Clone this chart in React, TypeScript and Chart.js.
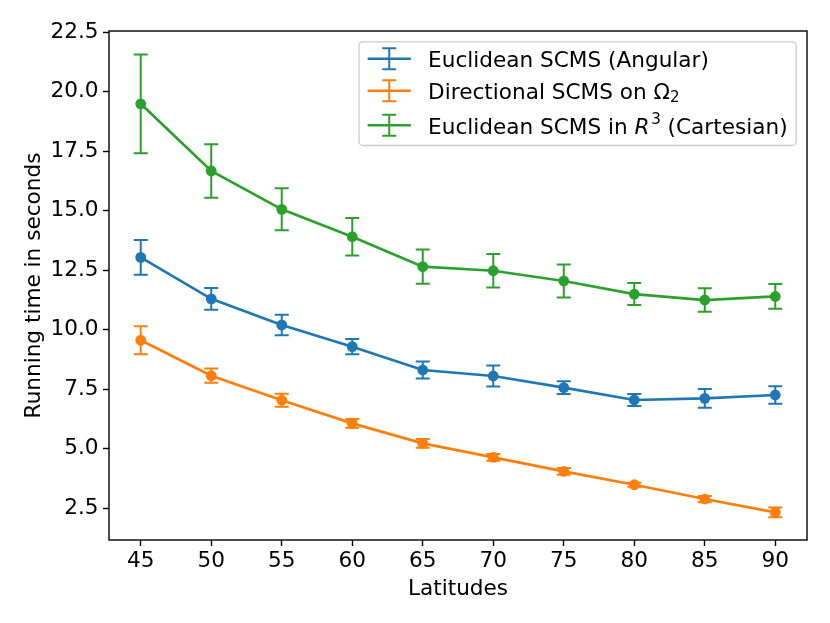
import { useEffect, useRef } from "react";
import { Chart, registerables } from "chart.js";

Chart.register(...registerables);

// latitudes on the x axis
const latitudes = [45, 50, 55, 60, 65, 70, 75, 80, 85, 90];

// mean running time (s) and error (+/-) per method
const angularTimes = [13.04, 11.3, 10.2, 9.29, 8.31, 8.06, 7.57, 7.05, 7.12, 7.26];
const angularErr = [0.73, 0.46, 0.43, 0.32, 0.36, 0.44, 0.27, 0.25, 0.39, 0.37];
const directionalTimes = [9.56, 8.07, 7.04, 6.07, 5.23, 4.64, 4.05, 3.49, 2.89, 2.33];
const directionalErr = [0.59, 0.3, 0.27, 0.18, 0.18, 0.14, 0.14, 0.08, 0.13, 0.2];
const cartesianTimes = [19.49, 16.67, 15.06, 13.91, 12.65, 12.48, 12.05, 11.5, 11.25, 11.4];
const cartesianErr = [2.07, 1.12, 0.88, 0.79, 0.72, 0.7, 0.69, 0.46, 0.49, 0.52];

const xTicks = [45, 50, 55, 60, 65, 70, 75, 80, 85, 90];
const yTicks = [2.5, 5, 7.5, 10, 12.5, 15, 17.5, 20, 22.5];

type Seg = { text: string; italic?: boolean; sub?: boolean; sup?: boolean };
const legendLabels: Seg[][] = [
  [{ text: "Euclidean SCMS (Angular)" }],
  [{ text: "Directional SCMS on Ω" }, { text: "2", sub: true }],
  [
    { text: "Euclidean SCMS in " },
    { text: "R", italic: true },
    { text: "3", sup: true },
    { text: " (Cartesian)" },
  ],
];

const colors = ["#1f77b4", "#ff7f0e", "#2ca02c"];
const FS = 21.6;
const FAMILY = '"DejaVu Sans"';

const segFont = (s: Seg) => {
  const size = s.sub || s.sup ? FS * 0.7 : FS;
  return `${s.italic ? "italic " : ""}${size}px ${FAMILY}`;
};

const errorBarPlugin = {
  id: "errorBars",
  beforeDatasetsDraw(chart: any) {
    const { ctx } = chart;
    const x = chart.scales.x;
    const y = chart.scales.y;
    const cap = 7;
    ctx.save();
    chart.data.datasets.forEach((ds: any) => {
      ctx.strokeStyle = ds.borderColor;
      ctx.lineWidth = 2;
      ds.data.forEach((p: any, j: number) => {
        const px = x.getPixelForValue(p.x);
        const top = y.getPixelForValue(p.y + ds.errors[j]);
        const bot = y.getPixelForValue(p.y - ds.errors[j]);
        ctx.beginPath();
        ctx.moveTo(px, top);
        ctx.lineTo(px, bot);
        ctx.moveTo(px - cap, top);
        ctx.lineTo(px + cap, top);
        ctx.moveTo(px - cap, bot);
        ctx.lineTo(px + cap, bot);
        ctx.stroke();
      });
    });
    ctx.restore();
  },
  afterDatasetsDraw(chart: any) {
    const { ctx, chartArea } = chart;
    ctx.save();
    ctx.strokeStyle = "#000";
    ctx.lineWidth = 1.4;
    ctx.strokeRect(chartArea.left, chartArea.top, chartArea.right - chartArea.left, chartArea.bottom - chartArea.top);
    ctx.restore();
  },
};

const legendPlugin = {
  id: "mplLegend",
  afterDraw(chart: any) {
    const { ctx, chartArea } = chart;
    const pad = 0.4 * FS;
    const handle = 2 * FS;
    const gap = 0.8 * FS;
    const axPad = 0.5 * FS;
    ctx.save();
    const widths = legendLabels.map((segs) =>
      segs.reduce((w, s) => {
        ctx.font = segFont(s);
        return w + ctx.measureText(s.text).width + (s.italic ? 1.5 : 0);
      }, 0)
    );
    const boxW = pad * 2 + handle + gap + Math.max(...widths);
    const boxH = 103.7;
    const right = chartArea.right - axPad;
    const left = right - boxW;
    const top = chartArea.top + axPad;

    ctx.beginPath();
    ctx.roundRect(left, top, boxW, boxH, 4);
    ctx.fillStyle = "rgba(255,255,255,0.8)";
    ctx.fill();
    ctx.strokeStyle = "#cccccc";
    ctx.lineWidth = 1.3;
    ctx.stroke();

    const rowOffsets = [17, 49, 83.4];
    legendLabels.forEach((segs, i) => {
      const cy = top + rowOffsets[i];
      const hx0 = left + pad;
      const hx1 = hx0 + handle;
      const mx = (hx0 + hx1) / 2;
      ctx.strokeStyle = colors[i];
      ctx.lineWidth = 2.6;
      ctx.beginPath();
      ctx.moveTo(hx0, cy);
      ctx.lineTo(hx1, cy);
      ctx.stroke();
      ctx.lineWidth = 2;
      ctx.beginPath();
      ctx.moveTo(mx, cy - 10.5);
      ctx.lineTo(mx, cy + 10.5);
      ctx.moveTo(mx - 7, cy - 10.5);
      ctx.lineTo(mx + 7, cy - 10.5);
      ctx.moveTo(mx - 7, cy + 10.5);
      ctx.lineTo(mx + 7, cy + 10.5);
      ctx.stroke();

      let tx = hx1 + gap;
      const base = cy + 8.3;
      ctx.fillStyle = "#000";
      ctx.textBaseline = "alphabetic";
      ctx.textAlign = "left";
      segs.forEach((s) => {
        ctx.font = segFont(s);
        const dy = s.sub ? 3 : s.sup ? -10 : 0;
        ctx.fillText(s.text, tx, base + dy);
        tx += ctx.measureText(s.text).width + (s.italic ? 1.5 : 0);
      });
    });
    ctx.restore();
  },
};

const RunningTimeChart = () => {
  const canvasRef = useRef<HTMLCanvasElement | null>(null);
  const chartRef = useRef<Chart | null>(null);

  useEffect(() => {
    document.body.style.margin = "0";
    if (chartRef.current !== null) chartRef.current.destroy();
    if (canvasRef.current === null) return;

    const series = [
      { label: "Euclidean SCMS (Angular)", values: angularTimes, errors: angularErr },
      { label: "Directional SCMS on Ω2", values: directionalTimes, errors: directionalErr },
      { label: "Euclidean SCMS in R3 (Cartesian)", values: cartesianTimes, errors: cartesianErr },
    ];

    const tickFont = { family: "DejaVu Sans", size: FS };
    const grid = {
      drawOnChartArea: false,
      drawTicks: true,
      tickLength: 6,
      tickColor: "#000",
      tickWidth: 1.4,
      color: "#000",
    };

    chartRef.current = new Chart(canvasRef.current, {
      type: "line",
      data: {
        datasets: series.map((s, i) => ({
          label: s.label,
          data: latitudes.map((lat, j) => ({ x: lat, y: s.values[j] })),
          errors: s.errors,
          borderColor: colors[i],
          backgroundColor: colors[i],
          borderWidth: 2.7,
          pointRadius: 5.4,
          pointBorderWidth: 0,
          pointBackgroundColor: colors[i],
          pointHoverRadius: 5.4,
          tension: 0,
          fill: false,
        })) as any,
      },
      options: {
        animation: false,
        responsive: false,
        events: [],
        layout: { padding: { top: 31, right: 23, left: 0, bottom: 0 } },
        plugins: {
          legend: { display: false },
          tooltip: { enabled: false },
        },
        scales: {
          x: {
            type: "linear",
            min: 42.75,
            max: 92.25,
            afterBuildTicks: (scale: any) => {
              scale.ticks = xTicks.map((v) => ({ value: v }));
            },
            afterFit: (scale: any) => {
              scale.height = 83;
            },
            ticks: {
              font: tickFont,
              color: "#000",
              padding: 2,
              maxRotation: 0,
              autoSkip: false,
              callback: (v: any) => String(v),
            },
            grid,
            border: { display: false },
            title: {
              display: true,
              text: "Latitudes",
              font: tickFont,
              color: "#000",
              padding: { top: 0, bottom: 21 },
            },
          },
          y: {
            type: "linear",
            min: 1.17,
            max: 22.55,
            afterBuildTicks: (scale: any) => {
              scale.ticks = yTicks.map((v) => ({ value: v }));
            },
            afterFit: (scale: any) => {
              scale.width = 109;
            },
            ticks: {
              font: tickFont,
              color: "#000",
              padding: 4.5,
              autoSkip: false,
              callback: (v: any) => Number(v).toFixed(1),
            },
            grid,
            border: { display: false },
            title: {
              display: true,
              text: "Running time in seconds",
              font: tickFont,
              color: "#000",
              padding: { top: 21, bottom: 0 },
            },
          },
        },
      },
      plugins: [errorBarPlugin, legendPlugin],
    });

    return () => {
      if (chartRef.current !== null) {
        chartRef.current.destroy();
        chartRef.current = null;
      }
    };
  }, []);

  return (
    <div style={{ width: 830, height: 623, background: "#fff" }}>
      <canvas ref={canvasRef} width={830} height={623} style={{ display: "block" }} />
    </div>
  );
};

export default function App() {
  return <RunningTimeChart />;
}
